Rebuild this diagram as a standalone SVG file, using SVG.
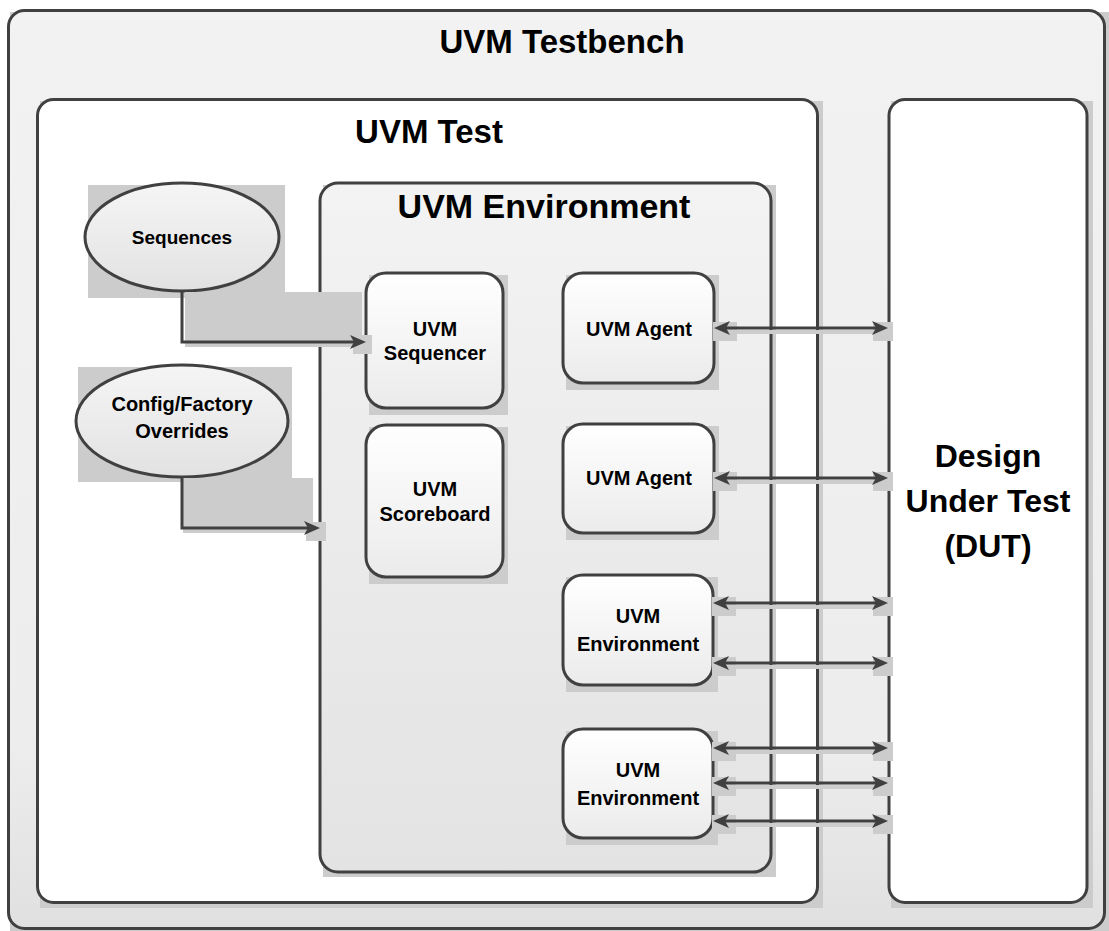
<svg xmlns="http://www.w3.org/2000/svg" width="1109" height="931" viewBox="0 0 1109 931">
<defs>
<linearGradient id="gOuter" x1="0" y1="0" x2="0" y2="1"><stop offset="0" stop-color="#f2f2f2"/><stop offset="0.8" stop-color="#ededed"/><stop offset="1" stop-color="#e0e0e0"/></linearGradient>
<linearGradient id="gEnv" x1="0" y1="0" x2="0" y2="1"><stop offset="0" stop-color="#f3f3f3"/><stop offset="1" stop-color="#e3e3e3"/></linearGradient>
<linearGradient id="gNode" x1="0" y1="0" x2="0" y2="1"><stop offset="0" stop-color="#ffffff"/><stop offset="1" stop-color="#ebebeb"/></linearGradient>
<linearGradient id="gEll" x1="0" y1="0" x2="0" y2="1"><stop offset="0" stop-color="#f5f5f5"/><stop offset="1" stop-color="#e2e2e2"/></linearGradient>
<marker id="ah" viewBox="0 0 16 14" refX="12" refY="7" markerWidth="16" markerHeight="14" markerUnits="userSpaceOnUse" orient="auto-start-reverse"><path d="M0,0 L16,7 L0,14 L4,7 z" fill="#404040"/></marker>
<style>
.box{stroke:#404040;stroke-width:3}
.sh{fill:#cccccc}
.t{font-family:"Liberation Sans",Arial,sans-serif;font-weight:bold;fill:#000;text-anchor:middle}
.big{font-size:33px}
.sm{font-size:20px}
.ln{stroke:#404040;stroke-width:3;fill:none}
.lsh{stroke:#cdcdcd;stroke-width:4;fill:none}
</style>
</defs>

<g id="testbench">
<rect class="sh" x="10" y="12" width="1099" height="919"/>
<rect class="box" x="8.5" y="10.5" width="1096" height="918" rx="16" fill="url(#gOuter)"/>
<text class="t big" x="562" y="53">UVM Testbench</text>
</g>

<g id="uvm-test">
<rect class="sh" x="40" y="101" width="783" height="807"/>
<rect class="box" x="37.5" y="99.5" width="780" height="803" rx="16" fill="#ffffff"/>
<text class="t big" x="429" y="143">UVM Test</text>
</g>

<g id="dut">
<rect class="sh" x="891" y="101" width="202" height="807"/>
<rect class="box" x="889" y="99.5" width="198" height="803" rx="16" fill="#ffffff"/>
<text class="t" font-size="32" x="988" y="467">Design</text>
<text class="t" font-size="32" x="988" y="512">Under Test</text>
<text class="t" font-size="32" x="988" y="557">(DUT)</text>
</g>

<g id="uvm-env">
<rect class="sh" x="323" y="185" width="453" height="692"/>
<rect class="box" x="320" y="183" width="451" height="689" rx="18" fill="url(#gEnv)"/>
<text class="t" font-size="34" x="544" y="218">UVM Environment</text>
</g>

<g id="sequences">
<rect class="sh" x="88" y="185" width="197" height="113"/>
<ellipse class="box" cx="182" cy="237" rx="97" ry="54" fill="url(#gEll)"/>
<text class="t" font-size="19" x="182" y="244">Sequences</text>
</g>

<g id="config">
<rect class="sh" x="78" y="367" width="214" height="115"/>
<ellipse class="box" cx="182" cy="421" rx="106" ry="56" fill="url(#gEll)"/>
<text class="t sm" x="182" y="411">Config/Factory</text>
<text class="t sm" x="182" y="438">Overrides</text>
</g>

<g id="sequencer">
<rect class="sh" x="369" y="275" width="139" height="140"/>
<rect class="box" x="366" y="273" width="137" height="135" rx="20" fill="url(#gNode)"/>
<text class="t sm" x="435" y="336">UVM</text>
<text class="t sm" x="435" y="360">Sequencer</text>
</g>

<g id="scoreboard">
<rect class="sh" x="369" y="427" width="139" height="157"/>
<rect class="box" x="366" y="425" width="137" height="152" rx="20" fill="url(#gNode)"/>
<text class="t sm" x="435" y="496">UVM</text>
<text class="t sm" x="435" y="521">Scoreboard</text>
</g>

<g id="agent1">
<rect class="sh" x="566" y="275" width="153" height="115"/>
<rect class="box" x="563" y="273" width="151" height="110" rx="20" fill="url(#gNode)"/>
<text class="t sm" x="639" y="336">UVM Agent</text>
</g>

<g id="agent2">
<rect class="sh" x="566" y="426" width="153" height="114"/>
<rect class="box" x="563" y="424" width="151" height="109" rx="20" fill="url(#gNode)"/>
<text class="t sm" x="639" y="485">UVM Agent</text>
</g>

<g id="env1">
<rect class="sh" x="566" y="577" width="152" height="115"/>
<rect class="box" x="563" y="575" width="150" height="110" rx="20" fill="url(#gNode)"/>
<text class="t sm" x="638" y="623">UVM</text>
<text class="t sm" x="638" y="651">Environment</text>
</g>

<g id="env2">
<rect class="sh" x="566" y="731" width="152" height="114"/>
<rect class="box" x="563" y="729" width="150" height="109" rx="20" fill="url(#gNode)"/>
<text class="t sm" x="638" y="777">UVM</text>
<text class="t sm" x="638" y="805">Environment</text>
</g>

<g id="connectors">
<!-- shadows -->
<rect class="sh" x="185" y="292" width="177" height="55"/>
<rect class="sh" x="353" y="335" width="19" height="19"/>
<rect class="sh" x="183" y="478" width="130" height="55"/>
<rect class="sh" x="306" y="522" width="20" height="19"/>

<path class="lsh" d="M734,332 H875"/><rect class="sh" x="713" y="322" width="24" height="19"/><rect class="sh" x="873" y="322" width="20" height="19"/>
<path class="lsh" d="M734,482 H875"/><rect class="sh" x="713" y="472" width="24" height="19"/><rect class="sh" x="873" y="472" width="20" height="19"/>
<path class="lsh" d="M734,607 H875"/><rect class="sh" x="712" y="597" width="24" height="19"/><rect class="sh" x="873" y="597" width="20" height="19"/>
<path class="lsh" d="M734,667 H875"/><rect class="sh" x="712" y="657" width="24" height="19"/><rect class="sh" x="873" y="657" width="20" height="19"/>
<path class="lsh" d="M734,752 H875"/><rect class="sh" x="712" y="742" width="24" height="19"/><rect class="sh" x="873" y="742" width="20" height="19"/>
<path class="lsh" d="M734,787 H875"/><rect class="sh" x="712" y="777" width="24" height="19"/><rect class="sh" x="873" y="777" width="20" height="19"/>
<path class="lsh" d="M734,825 H875"/><rect class="sh" x="712" y="815" width="24" height="19"/><rect class="sh" x="873" y="815" width="20" height="19"/>

<!-- lines -->
<path class="ln" d="M182,292 V342 H362" marker-end="url(#ah)"/>
<path class="ln" d="M182,477 V528 H316" marker-end="url(#ah)"/>

<path class="ln" d="M718,328 H884" marker-start="url(#ah)" marker-end="url(#ah)"/>
<path class="ln" d="M718,478 H884" marker-start="url(#ah)" marker-end="url(#ah)"/>
<path class="ln" d="M717,603 H884" marker-start="url(#ah)" marker-end="url(#ah)"/>
<path class="ln" d="M717,663 H884" marker-start="url(#ah)" marker-end="url(#ah)"/>
<path class="ln" d="M717,748 H884" marker-start="url(#ah)" marker-end="url(#ah)"/>
<path class="ln" d="M717,783 H884" marker-start="url(#ah)" marker-end="url(#ah)"/>
<path class="ln" d="M717,821 H884" marker-start="url(#ah)" marker-end="url(#ah)"/>
</g>
</svg>
